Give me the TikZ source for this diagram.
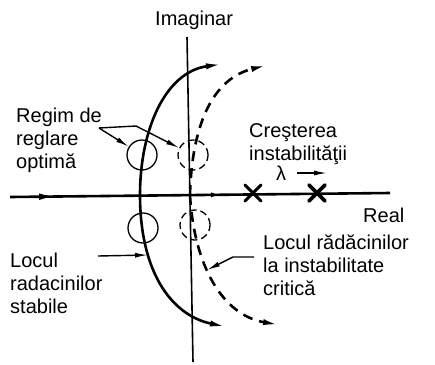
\documentclass[tikz,border=0pt]{standalone}
\usepackage{fontspec}
\setmainfont{Liberation Sans}
\usetikzlibrary{arrows.meta,decorations.markings}

\begin{document}
\begin{tikzpicture}[x=1pt, y=-1pt, >={Latex[length=17pt,width=6pt]},
    lbl/.style={inner sep=0pt, anchor=base west, align=left, font=\fontsize{20}{23}\selectfont},
    locus/.style={line width=2.6pt, ->},
    ring/.style={circle, draw, line width=1.3pt, minimum size=30pt, inner sep=0pt},
    pointer/.style={line width=1.4pt, -{Latex[length=13pt,width=5pt]}}]
    \useasboundingbox (0,0) rectangle (435,364);
    \draw[line width=1.6pt] (187,37) -- (193,362);
    \draw[line width=2.6pt, postaction={decorate}, decoration={markings,
        mark=at position 0.124 with {\arrow{Latex[length=18pt,width=6.5pt]}},
        mark=at position 0.56 with {\arrow{Latex[length=12pt,width=5pt]}}}]
        (10,197) -- (390,193);
    \foreach \x/\w in {253/3pt, 317/3.6pt}
        \draw[line width=\w, line cap=round] (\x-8,185) -- (\x+8,201) (\x-8,201) -- (\x+8,185);
    \draw[locus] (140,195) .. controls (140,130) and (165,72) .. (223,64);
    \draw[locus] (140,195) .. controls (140,270) and (170,315) .. (227,327);
    \draw[locus, dash pattern=on 10pt off 7pt] (190,195) .. controls (192,120) and (215,78) .. (268,65);
    \draw[locus, dash pattern=on 10pt off 7pt] (190,195) .. controls (194,265) and (222,315) .. (280,325);
    \node[ring] (stabtop) at (142,155) {};
    \node[ring] (stabbot) at (143,228) {};
    \node[ring, dash pattern=on 7pt off 4pt] (crittop) at (193,155) {};
    \node[ring, dash pattern=on 7pt off 4pt] (critbot) at (195,225) {};
    \node[lbl] (imlbl) at (155,25) {Imaginar};
    \node[lbl] (relbl) at (363,222) {Real};
    \node[lbl] (optlbl) at (16,168) {Regim de\\reglare\\optimă};
    \node[lbl] (crslbl) at (249,160) {Creşterea\\instabilităţii};
    \node[lbl] (lamlbl) at (276,180) {λ};
    \node[lbl] (stablbl) at (10,313) {Locul\\radacinilor\\stabile};
    \node[lbl] (critlbl) at (263,295) {Locul rădăcinilor\\la instabilitate\\critică};
    \coordinate (optfork) at (99,128);
    \coordinate (optbend) at (136,126);
    \coordinate (stabtail) at (98,256);
    \coordinate (stabfoot) at (148,255);
    \coordinate (crittail) at (254,257);
    \coordinate (critbend) at (233,257);
    \coordinate (critfoot) at (207,270);
    \coordinate (lamtail) at (297,173);
    \coordinate (lamhead) at (327,173);
    \draw[pointer] (optfork) -- (stabtop);
    \draw[pointer] (optfork) -- (optbend) -- (crittop);
    \draw[pointer] (stabtail) -- (stabfoot);
    \draw[pointer] (crittail) -- (critbend) -- (critfoot);
    \draw[pointer] (lamtail) -- (lamhead);
\end{tikzpicture}
\end{document}
